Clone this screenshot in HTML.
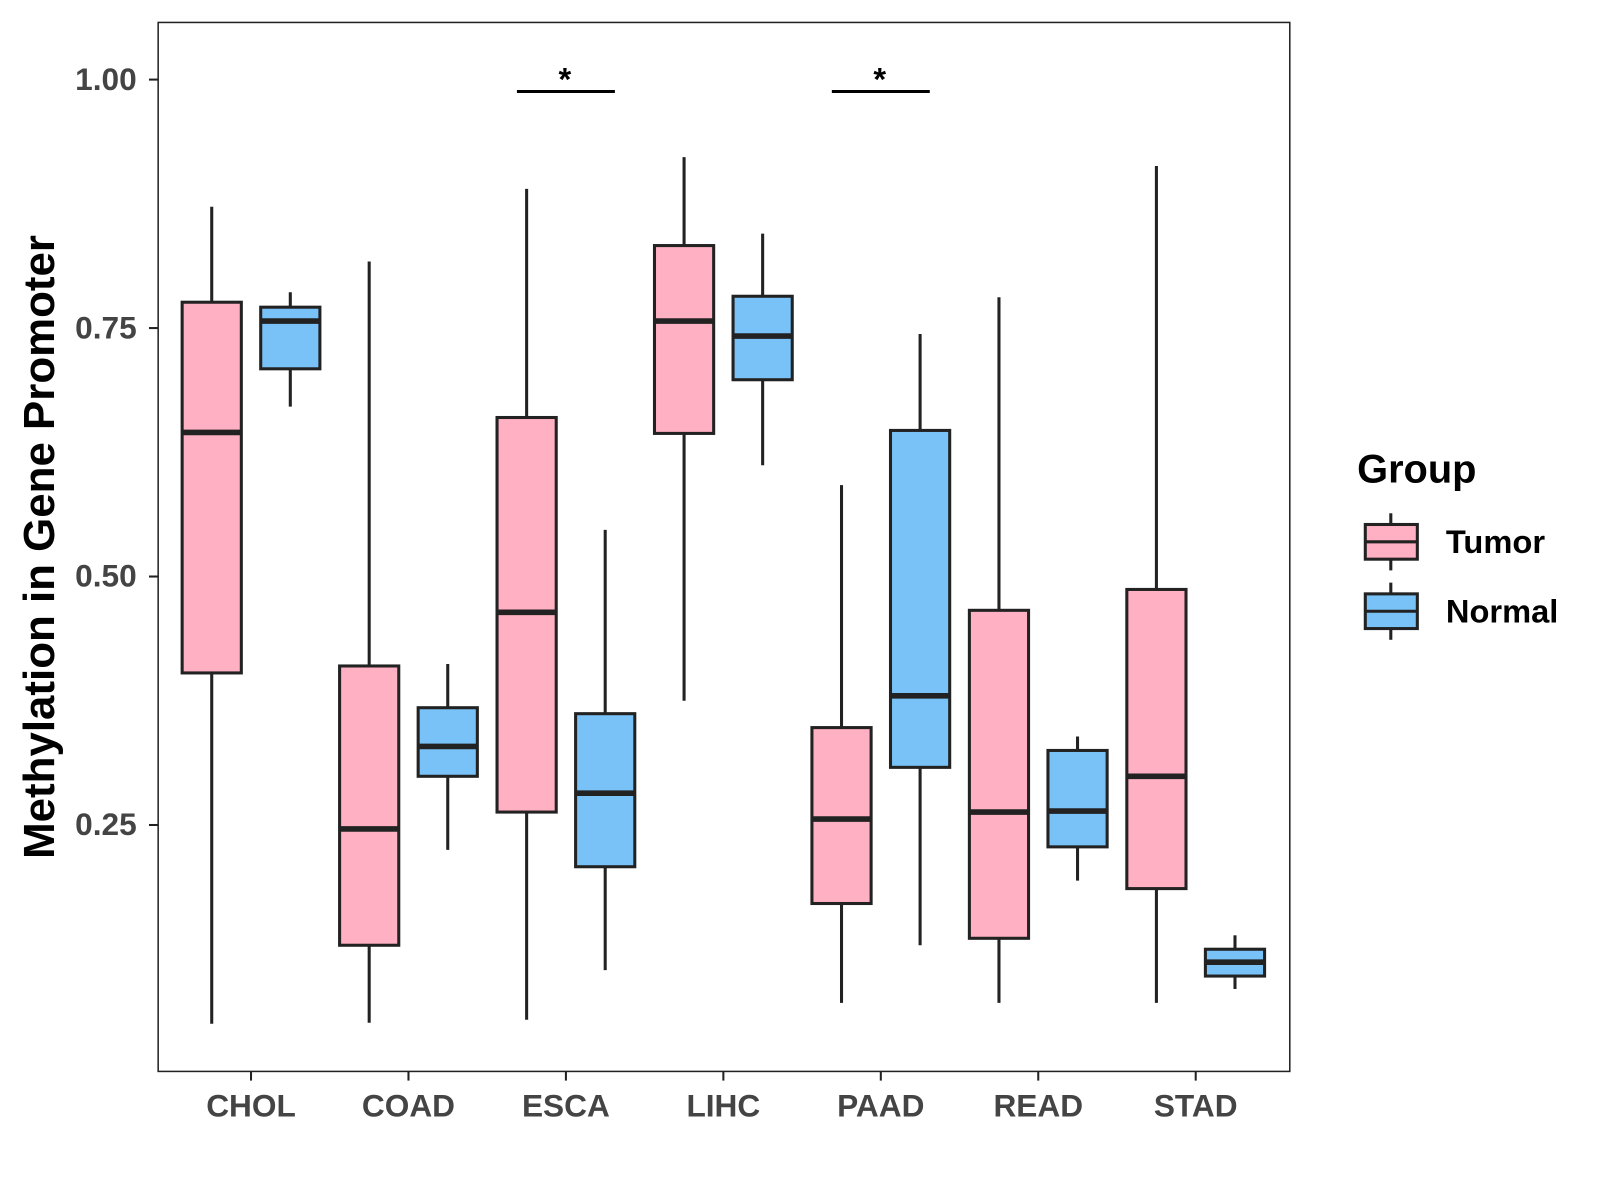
<!DOCTYPE html>
<html><head><meta charset="utf-8"><style>
body{margin:0;background:#fff}
svg{display:block;font-family:"Liberation Sans",Arial,sans-serif}
</style></head><body>
<svg width="1600" height="1200" viewBox="0 0 1600 1200">
<g id="chart" transform="scale(1.0204)">
<rect x="155" y="22" width="1109" height="1028" fill="#fff" stroke="#222" stroke-width="1.5"/>
<text transform="translate(53,536) rotate(-90)" text-anchor="middle" font-size="43" font-weight="bold" fill="#000">Methylation in Gene Promoter</text>
<g>
<text x="1330" y="473" font-size="39" font-weight="bold">Group</text>
</g>
</g>
</svg>
<script>
const categories=["CHOL","COAD","ESCA","LIHC","PAAD","READ","STAD"];
const groups=["Tumor","Normal"];
const colors=["#FFB0C2","#78C2F8"];
// [low, q1, median, q3, high]
const tumorStats=[[0.050,0.403,0.645,0.776,0.872],[0.051,0.129,0.246,0.410,0.817],[0.054,0.263,0.464,0.660,0.890],[0.375,0.644,0.757,0.833,0.922],[0.071,0.171,0.256,0.348,0.592],[0.071,0.136,0.263,0.466,0.781],[0.071,0.186,0.299,0.487,0.913]];
const normalStats=[[0.671,0.709,0.757,0.771,0.786],[0.225,0.299,0.329,0.368,0.412],[0.104,0.208,0.282,0.362,0.547],[0.612,0.698,0.742,0.782,0.845],[0.129,0.308,0.380,0.647,0.744],[0.194,0.228,0.264,0.325,0.339],[0.085,0.098,0.112,0.125,0.139]];
const yTicks=[0.25,0.50,0.75,1.00];
const yTickLabels=["0.25","0.50","0.75","1.00"];
const sigCats=["ESCA","PAAD"];
const sigLevel=0.988;

const NS="http://www.w3.org/2000/svg";
const svg=document.getElementById("chart");
const y=v=>78+(1-v)*974;
const x=i=>246+i*154.3;
function mk(t,a,p){const e=document.createElementNS(NS,t);for(const k in a)e.setAttribute(k,a[k]);(p||svg).appendChild(e);return e;}

yTicks.forEach((v,i)=>{
  const l=mk("line",{x1:146,x2:155,y1:y(v),y2:y(v),stroke:"#222","stroke-width":2});
  
  
  const t=mk("text",{x:134,y:y(v)+10,"text-anchor":"end","font-size":31,"font-weight":"bold",fill:"#444"});
  t.textContent=yTickLabels[i];
  
  
});
categories.forEach((c,i)=>{
  const l=mk("line",{x1:x(i),x2:x(i),y1:1050,y2:1059,stroke:"#222","stroke-width":2});
  
  
  const t=mk("text",{x:x(i),y:1094,"text-anchor":"middle","font-size":31,"font-weight":"bold",fill:"#444"});
  t.textContent=c;
  
  
});
function box(cx,s,col,name){
  const g=mk("g",{});
  
  
  mk("line",{x1:cx,x2:cx,y1:y(s[0]),y2:y(s[4]),stroke:"#222","stroke-width":3},g);
  mk("rect",{x:cx-29,y:y(s[3]),width:58,height:y(s[1])-y(s[3]),fill:col,stroke:"#222","stroke-width":3},g);
  mk("line",{x1:cx-29,x2:cx+29,y1:y(s[2]),y2:y(s[2]),stroke:"#222","stroke-width":5.5},g);
}
categories.forEach((c,i)=>{
  box(x(i)-38.5,tumorStats[i],colors[0],"box-tumor-"+c.toLowerCase());
  box(x(i)+38.5,normalStats[i],colors[1],"box-normal-"+c.toLowerCase());
});
sigCats.forEach(c=>{
  const i=categories.indexOf(c);
  const l=mk("line",{x1:x(i)-48,x2:x(i)+48,y1:y(sigLevel),y2:y(sigLevel),stroke:"#000","stroke-width":3});
  
  
  const t=mk("text",{x:x(i)-1,y:y(sigLevel)-1,"text-anchor":"middle","font-size":32,"font-weight":"bold"});
  t.textContent="*";
  
  
});
groups.forEach((gname,k)=>{
  const cy=531+k*68;
  const g=mk("g",{});
  
  
  mk("line",{x1:1363,x2:1363,y1:cy-28,y2:cy+28,stroke:"#222","stroke-width":3},g);
  mk("rect",{x:1338,y:cy-17,width:51,height:34,fill:colors[k],stroke:"#222","stroke-width":3},g);
  mk("line",{x1:1338,x2:1389,y1:cy,y2:cy,stroke:"#222","stroke-width":3},g);
  const t=mk("text",{x:1417,y:cy+11,"font-size":32,"font-weight":"bold"},g);
  t.textContent=gname;
});
</script>
</body></html>
